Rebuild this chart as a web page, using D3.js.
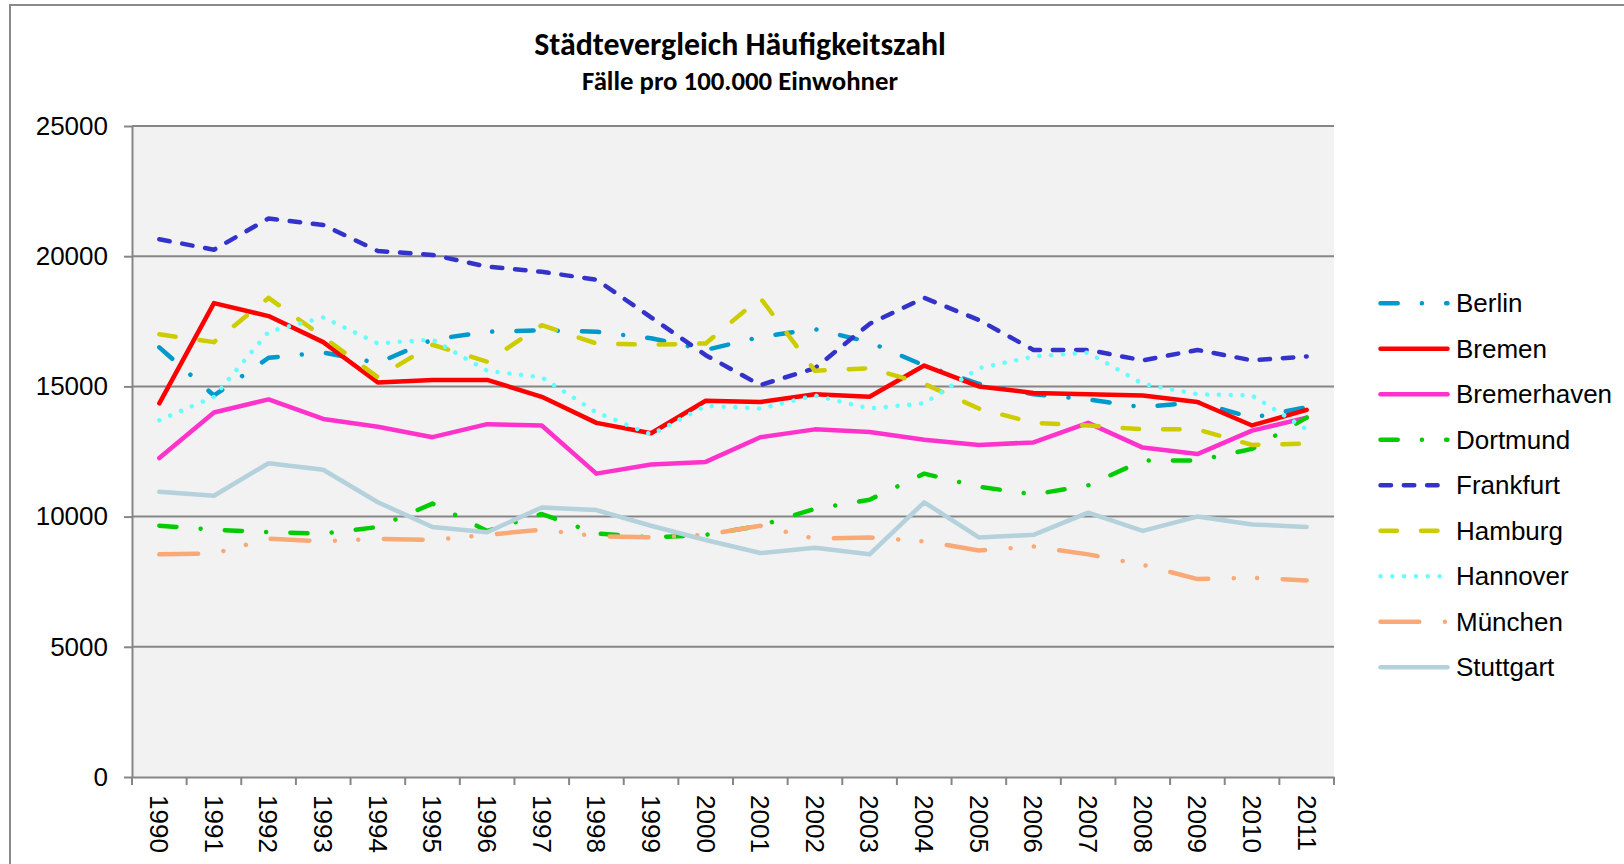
<!DOCTYPE html>
<html>
<head>
<meta charset="utf-8">
<script src="https://cdn.jsdelivr.net/npm/d3@7"></script>
<style>
  body { margin: 0; background: #ffffff; }
  svg { display: block; }
</style>
</head>
<body>
<svg id="chart" width="1624" height="864"></svg>
<script>
// ---------- data ----------
const years = ['1990','1991','1992','1993','1994','1995','1996','1997','1998','1999','2000',
               '2001','2002','2003','2004','2005','2006','2007','2008','2009','2010','2011'];
const berlin      = [16500,14650,16100,16300,15900,16800,17100,17150,17100,16850,16400,16900,17200,16700,15800,15100,14700,14500,14200,14400,13800,14200];
const bremen      = [14350,18200,17700,16700,15150,15250,15250,14600,13600,13200,14450,14400,14700,14600,15800,15000,14750,14700,14650,14400,13500,14100];
const bremerhaven = [12250,14000,14500,13750,13450,13050,13550,13500,11650,12000,12100,13050,13350,13250,12950,12750,12850,13600,12650,12400,13300,13800];
const dortmund    = [9650,9500,9400,9350,9600,10500,9450,10100,9350,9200,9300,9650,10300,10650,11650,11150,10850,11200,12150,12150,12600,13800];
const frankfurt   = [20650,20250,21450,21200,20200,20050,19600,19400,19100,17650,16200,15050,15700,17400,18400,17550,16400,16400,16000,16400,16000,16150];
const hamburg     = [17000,16700,18400,16900,15350,16600,15950,17350,16650,16600,16650,18400,15600,15700,15100,14150,13600,13500,13350,13350,12750,12800];
const hannover    = [13700,14600,17100,17650,16650,16800,15600,15350,14000,13150,14250,14150,14650,14150,14350,15700,16150,16300,15100,14700,14650,13350];
const muenchen    = [8550,8580,9150,9050,9150,9100,9300,9500,9250,9200,9300,9650,9150,9200,9050,8700,8850,8550,8150,7600,7650,7550];
const stuttgart   = [10950,10800,12050,11800,10550,9600,9400,10350,10250,9650,9100,8600,8800,8550,10550,9200,9300,10150,9450,10000,9700,9600];

const seriesNames = ['Berlin','Bremen','Bremerhaven','Dortmund','Frankfurt','Hamburg','Hannover','München','Stuttgart'];
const seriesValues = [berlin, bremen, bremerhaven, dortmund, frankfurt, hamburg, hannover, muenchen, stuttgart];
const yTicks = [0, 5000, 10000, 15000, 20000, 25000];
const titleText = 'Städtevergleich Häufigkeitszahl';
const subtitleText = 'Fälle pro 100.000 Einwohner';

// ---------- styles ----------
const seriesColors = ['#0099cc','#ff0000','#ff33cc','#00cc00','#3333cc','#cccc00','#66ffff','#f9a976','#b4d1dc'];
const seriesDash = [
  '17.2 24.2 0.01 24.2',            // long dash dot
  null,                              // solid
  null,                              // solid
  '17.2 24.2 0.01 24.2',            // long dash dot
  '10.5 12.8',                       // dash
  '16.5 24',                         // long dash
  '0.01 11.8',                       // round dot
  '38.8 25.6 0.01 23.3 0.01 25.6',  // long dash dot dot
  null                               // solid
];
const LW = 4.5;

// ---------- layout ----------
const W = 1624, H = 864;
const plot = { left: 132, right: 1334, top: 126, bottom: 777 };
const gridColor = '#868686';
const font = '"Liberation Sans", Arial, sans-serif';

const svg = d3.select('#chart');
svg.append('rect').attr('width', W).attr('height', H).attr('fill', '#ffffff');
// chart border (only top and left visible)
svg.append('rect').attr('x', 10).attr('y', 5).attr('width', W + 20).attr('height', H + 20)
  .attr('fill', '#ffffff').attr('stroke', '#8a8a8a').attr('stroke-width', 2);

const x = d3.scaleBand().domain(years).range([plot.left, plot.right]).padding(0);
const y = d3.scaleLinear().domain([0, 25000]).range([plot.bottom, plot.top]);

// plot background
svg.append('rect').attr('x', plot.left).attr('y', plot.top)
  .attr('width', plot.right - plot.left).attr('height', plot.bottom - plot.top)
  .attr('fill', '#f2f2f2');

// gridlines
svg.append('g').selectAll('line').data(yTicks.filter(t => t > 0)).join('line')
  .attr('x1', plot.left).attr('x2', plot.right)
  .attr('y1', d => y(d)).attr('y2', d => y(d))
  .attr('stroke', gridColor).attr('stroke-width', 2);

// y axis
const yAxis = svg.append('g').attr('transform', `translate(${plot.left},0)`)
  .call(d3.axisLeft(y).tickValues(yTicks).tickFormat(d3.format('d')).tickSize(8).tickSizeOuter(0).tickPadding(16));
yAxis.select('.domain').attr('stroke', gridColor).attr('stroke-width', 2);
yAxis.selectAll('.tick line').attr('stroke', gridColor).attr('stroke-width', 2);
yAxis.selectAll('.tick text').attr('font-family', font).attr('font-size', 26).attr('fill', '#000');

// x axis
const xAxis = svg.append('g').attr('transform', `translate(0,${plot.bottom})`)
  .call(d3.axisBottom(x).tickSize(0).tickSizeOuter(0));
xAxis.select('.domain').attr('stroke', gridColor).attr('stroke-width', 2);
xAxis.selectAll('.tick text')
  .attr('font-family', font).attr('font-size', 26).attr('fill', '#000')
  .attr('transform', 'rotate(90)').attr('text-anchor', 'start')
  .attr('x', 18).attr('y', 0).attr('dy', '0.35em');
// category boundary ticks
const boundaries = d3.range(years.length + 1).map(i => plot.left + i * x.step());
xAxis.append('g').selectAll('line').data(boundaries).join('line')
  .attr('x1', d => d).attr('x2', d => d).attr('y1', 0).attr('y2', 8)
  .attr('stroke', gridColor).attr('stroke-width', 2);

// lines
const line = d3.line()
  .x((d, i) => x(years[i]) + x.bandwidth() / 2)
  .y(d => y(d));
const gLines = svg.append('g');
seriesValues.forEach((vals, k) => {
  gLines.append('path').datum(vals)
    .attr('d', line)
    .attr('fill', 'none')
    .attr('stroke', seriesColors[k])
    .attr('stroke-width', LW)
    .attr('stroke-linejoin', 'round')
    .attr('stroke-linecap', 'round')
    .attr('stroke-dasharray', seriesDash[k]);
});

// legend
const legend = svg.append('g');
seriesNames.forEach((name, k) => {
  const cy = 303.3 + k * 45.5;
  legend.append('line')
    .attr('x1', 1380.5).attr('x2', 1447.5).attr('y1', cy).attr('y2', cy)
    .attr('stroke', seriesColors[k]).attr('stroke-width', LW)
    .attr('stroke-linecap', 'round')
    .attr('stroke-dasharray', seriesDash[k]);
  legend.append('text')
    .attr('x', 1456).attr('y', cy).attr('dy', '0.35em')
    .attr('font-family', font).attr('font-size', 26).attr('fill', '#000')
    .text(name);
});

// titles
function fitText(sel, target) {
  const w = sel.node().getComputedTextLength();
  const fs = parseFloat(sel.attr('font-size'));
  if (w > 0) sel.attr('font-size', fs * target / w);
}
const tFont = 'Carlito, Calibri, Lato, "Open Sans", sans-serif';
const title = svg.append('text').attr('x', 740).attr('y', 55)
  .attr('text-anchor', 'middle').attr('font-family', tFont).attr('font-weight', 'bold')
  .attr('font-size', 28).attr('fill', '#000').text(titleText);
fitText(title, 412);
const subtitle = svg.append('text').attr('x', 740).attr('y', 90)
  .attr('text-anchor', 'middle').attr('font-family', tFont).attr('font-weight', 'bold')
  .attr('font-size', 22).attr('fill', '#000').text(subtitleText);
fitText(subtitle, 316);
</script>
</body>
</html>
